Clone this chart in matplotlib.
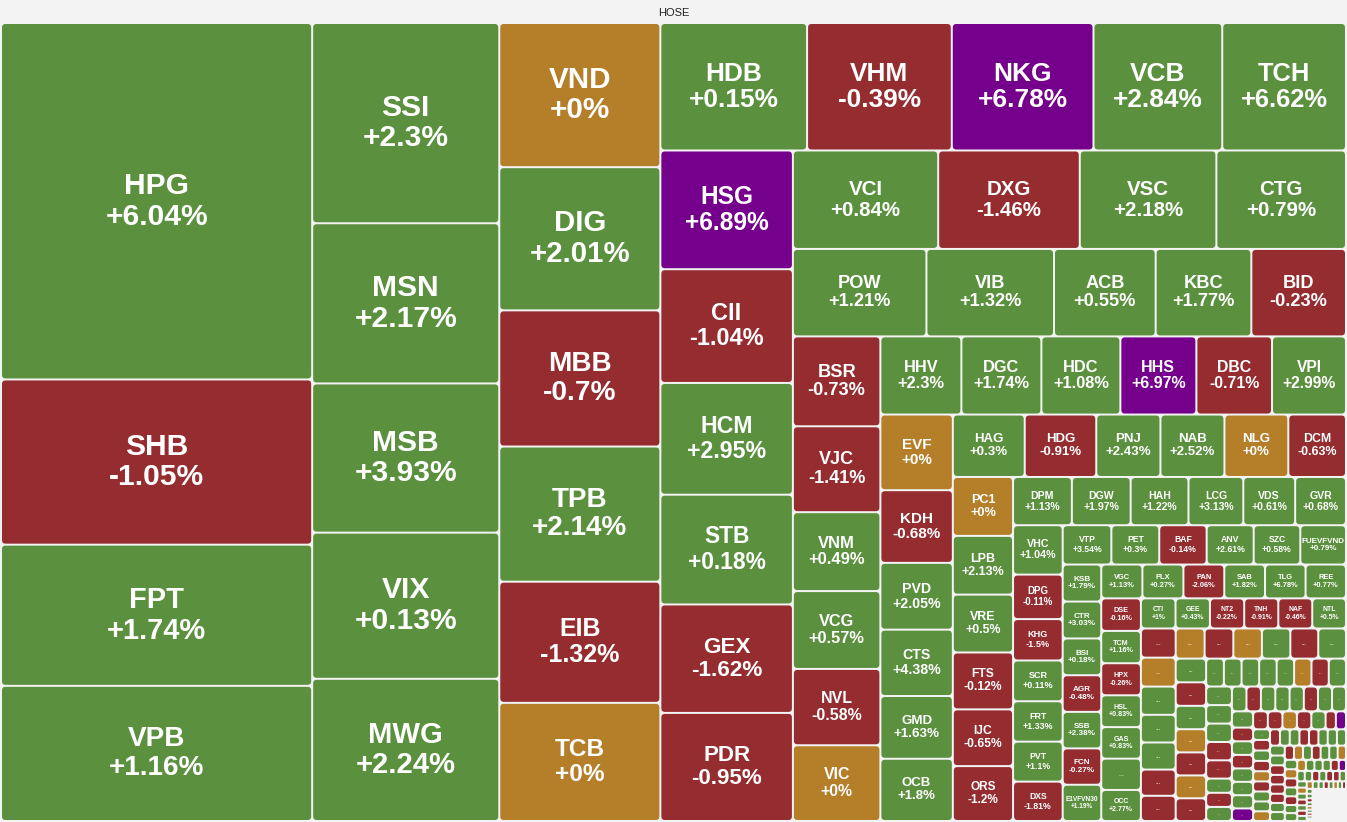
import math
import matplotlib
matplotlib.use('Agg')
import matplotlib.pyplot as plt
from matplotlib.patches import FancyBboxPatch

# HOSE heat map: tile area ~ traded value weight, colour ~ % change

tickers = ['HPG', 'SHB', 'FPT', 'VPB', 'SSI', 'MSN', 'MSB', 'VIX', 'MWG',
           'VND', 'DIG', 'MBB', 'TPB', 'EIB', 'TCB',
           'HDB', 'VHM', 'NKG', 'VCB', 'TCH',
           'HSG', 'CII', 'HCM', 'STB', 'GEX', 'PDR',
           'VCI', 'DXG', 'VSC', 'CTG',
           'POW', 'VIB', 'ACB', 'KBC', 'BID',
           'BSR', 'VJC', 'VNM', 'VCG', 'NVL', 'VIC',
           'HHV', 'DGC', 'HDC', 'HHS', 'DBC', 'VPI',
           'EVF', 'KDH', 'PVD', 'CTS', 'GMD', 'OCB',
           'HAG', 'HDG', 'PNJ', 'NAB', 'NLG', 'DCM',
           'PC1', 'LPB', 'VRE', 'FTS', 'IJC', 'ORS',
           'DPM', 'DGW', 'HAH', 'LCG', 'VDS', 'GVR',
           'VHC', 'DPG', 'KHG', 'SCR', 'FRT', 'PVT', 'DXS',
           'VTP', 'PET', 'BAF', 'ANV', 'SZC', 'FUEVFVND',
           'KSB', 'CTR', 'BSI', 'AGR', 'SSB', 'FCN', 'E1VFVN30',
           'VGC', 'PLX', 'PAN', 'SAB', 'TLG', 'REE',
           'DSE', 'TCM', 'HPX', 'HSL', 'GAS', '', 'OCC',
           'CTI', 'GEE', 'NT2', 'TNH', 'NAF', 'NTL']

pct = [6.04, -1.05, 1.74, 1.16, 2.3, 2.17, 3.93, 0.13, 2.24,
       0, 2.01, -0.7, 2.14, -1.32, 0,
       0.15, -0.39, 6.78, 2.84, 6.62,
       6.89, -1.04, 2.95, 0.18, -1.62, -0.95,
       0.84, -1.46, 2.18, 0.79,
       1.21, 1.32, 0.55, 1.77, -0.23,
       -0.73, -1.41, 0.49, 0.57, -0.58, 0,
       2.3, 1.74, 1.08, 6.97, -0.71, 2.99,
       0, -0.68, 2.05, 4.38, 1.63, 1.8,
       0.3, -0.91, 2.43, 2.52, 0, -0.63,
       0, 2.13, 0.5, -0.12, -0.65, -1.2,
       1.13, 1.97, 1.22, 3.13, 0.61, 0.68,
       1.04, -0.11, -1.5, 0.11, 1.33, 1.1, -1.81,
       3.54, 0.3, -0.14, 2.61, 0.58, 0.79,
       1.79, 3.03, 0.18, -0.48, 2.38, -0.27, 1.19,
       1.13, 0.27, -2.06, 1.82, 6.78, 0.77,
       -0.16, 1.16, -0.26, 0.83, 0.83, 0.4, 2.77,
       1, 0.43, -0.22, -0.91, -0.46, 0.5]

weight = [110716, 51315, 43851, 41985, 37400, 29920, 27863, 27302, 26554,
          23184, 23023, 21896, 21735, 19481, 18998,
          18669, 18415, 18034, 16383, 15748,
          15708, 15048, 14784, 14520, 14350, 14300,
          14280, 13916, 13426, 12740,
          11658, 11136, 8874, 8352, 8265,
          7850, 7500, 6890, 6800, 6665, 6615,
          6318, 6240, 6162, 5928, 5900, 5772,
          5472, 5256, 4830, 4800, 4540, 4500,
          4480, 4460, 4000, 3990, 3980, 3596,
          3540, 3530, 3480, 3420, 3410, 3300,
          2832, 2830, 2784, 2640, 2496, 2448,
          2445, 2205, 2050, 2020, 2000, 1980, 1950,
          1911, 1880, 1860, 1845, 1830, 1794,
          1425, 1420, 1415, 1410, 1405, 1400, 1395,
          1390, 1385, 1380, 1375, 1370, 1365,
          1290, 1280, 1270, 1260, 1250, 1240, 1230,
          1040, 1035, 1030, 1025, 1020, 1015]

ceiling = {'NKG', 'HSG', 'HHS'}

# codes too small to carry a readable label (drawn with "...")
small_weight = [1012, 1005, 980, 960, 940, 910, 875,
                870, 865, 860, 855, 840, 835,
                720, 715, 710, 705, 700, 695, 690,
                495, 492, 490, 488, 486, 484, 482, 480,
                478, 476, 474, 472, 470,
                366, 364, 362, 360, 358, 356,
                354, 352, 350, 348, 346, 344,
                290, 288, 286, 284, 282, 280,
                266, 264, 262, 260, 258, 256,
                184, 182, 180, 178, 176, 174, 172,
                170, 168, 166, 164, 162, 160, 158, 156,
                154, 152, 150, 148, 146, 144,
                142, 140, 138, 136, 134, 132,
                130, 128, 126, 124, 122, 120,
                118, 116, 114, 112, 110, 108,
                100, 98, 96, 94, 92, 90, 88,
                80, 78, 76, 74, 72, 70, 68, 66,
                60, 58, 56, 54, 52, 50, 48, 46, 44,
                40, 38, 36, 34, 32, 30, 28, 26, 24, 22, 20,
                18, 17, 16, 15, 14, 13, 12, 11, 10, 9]
small_state = ('rogggrr'
               'orogrg'
               'grgoror'
               'gggggorg'
               'gggrr'
               'grggrg'
               'ggrggg'
               'rgrggg'
               'prrorg'
               'rpgrgro'
               'rggorggr'
               'rggggg'
               'rrrrgg'
               'rogrgg'
               'ogorgr'
               'ggogggr'
               'pggrgrrg'
               'gogrgrgog'
               'grgogrggrgo'
               'grgrggorgg')
hidden_rest = 1000   # the tail of tiny codes, not drawn

# how many tiles each strip of the reference layout holds; the rest is
# filled greedily
strips = [4, 5, 6, 5, 6, 4, 5, 6, 6, 6, 6, 6, 6, 7, 6, 7, 6, 7, 6, 7, 6, 7]

COLORS = {'g': '#5b913e', 'r': '#952c2f', 'o': '#b57e29', 'p': '#74008c'}
PHI = (1 + 5 ** 0.5) / 2


def state_of(t, p):
    if t in ceiling:
        return 'p'
    if p > 0:
        return 'g'
    if p < 0:
        return 'r'
    return 'o'


def squarify(vals, x, y, w, h, fixed=(), ratio=PHI):
    # squarified layout (echarts rule), strips laid along the shorter side
    total = float(sum(vals))
    areas = [v / total * w * h for v in vals]
    rect = {'x': x, 'y': y, 'w': w, 'h': h}
    out = [None] * len(vals)

    def worst(row, s, L):
        amax = max(areas[i] for i in row)
        amin = min(areas[i] for i in row)
        f = L * L * ratio
        return max(f * amax / (s * s), (s * s) / (f * amin))

    def place(row, flush):
        s = sum(areas[i] for i in row)
        L = min(rect['w'], rect['h'])
        horiz = L == rect['w']
        start = rect['x'] if horiz else rect['y']
        length = rect['w'] if horiz else rect['h']
        other = rect['h'] if horiz else rect['w']
        t = s / L if L else 0
        if flush or t > other:
            t = other
        last = start
        for k, i in enumerate(row):
            step = areas[i] / t if t else 0
            remain = start + length - last
            mod = remain if (k == len(row) - 1 or remain < step) else step
            if horiz:
                out[i] = (last, rect['y'], mod, t)
            else:
                out[i] = (rect['x'], last, t, mod)
            last += mod
        if horiz:
            rect['y'] += t
            rect['h'] -= t
        else:
            rect['x'] += t
            rect['w'] -= t

    i = 0
    for n in fixed:
        place(list(range(i, i + n)), False)
        i += n

    row, s, best = [], 0.0, math.inf
    while i < len(areas):
        L = min(rect['w'], rect['h'])
        row.append(i)
        s += areas[i]
        score = worst(row, s, L)
        if score <= best:
            best = score
            i += 1
        else:
            row.pop()
            place(row, False)
            row, s, best = [], 0.0, math.inf
    if row:
        place(row, True)
    return out


labels = [f'{t}\n{p:+g}%' if t else '...' for t, p in zip(tickers, pct)]
labels += ['...'] * len(small_weight) + [None]
states = [state_of(t, p) for t, p in zip(tickers, pct)] + list(small_state) + [None]

W, H = 1347, 822
fig = plt.figure(figsize=(W / 100, H / 100), dpi=100)
fig.patch.set_facecolor('#f3f3f3')
ax = fig.add_axes([0, 0, 1, 1])
ax.set_xlim(0, W)
ax.set_ylim(H, 0)
ax.axis('off')

ax.text(W / 2, 13, 'HOSE', ha='center', va='center', fontsize=8,
        color='#222222', family=['Liberation Sans', 'DejaVu Sans'])

rects = squarify(weight + small_weight + [hidden_rest], 1, 23, W - 2, H - 24,
                 fixed=strips)
gap = 1.0
for (x, y, w, h), lab, st in zip(rects, labels, states):
    if lab is None:
        continue
    x, y, w, h = x + gap, y + gap, w - 2 * gap, h - 2 * gap
    if w <= 0.6 or h <= 0.6:
        continue
    r = min(3.5, 0.3 * min(w, h))
    ax.add_patch(FancyBboxPatch((x, y), w, h,
                                boxstyle=f'round,pad=0,rounding_size={r}',
                                fc=COLORS[st], ec='none', lw=0))
    if lab == '...':
        if w >= 10 and h >= 8:
            fpx = min(7, 0.22 * math.sqrt(w * h))
            ax.text(x + w / 2, y + h / 2, '...', ha='center', va='center',
                    fontsize=fpx * 0.72, color='white', alpha=0.75,
                    family=['Liberation Sans', 'DejaVu Sans'], fontweight='bold')
        continue
    longest = max(len(s) for s in lab.split('\n'))
    fpx = min(30, 0.2 * min(w, h) + 1.2, (w - 4) / (0.62 * longest))
    ax.text(x + w / 2, y + h / 2, lab, ha='center', va='center',
            fontsize=fpx * 0.72, color='white', fontweight='bold',
            linespacing=1.12, family=['Liberation Sans', 'DejaVu Sans'])

fig.savefig('out.png', dpi=100, facecolor=fig.get_facecolor())
